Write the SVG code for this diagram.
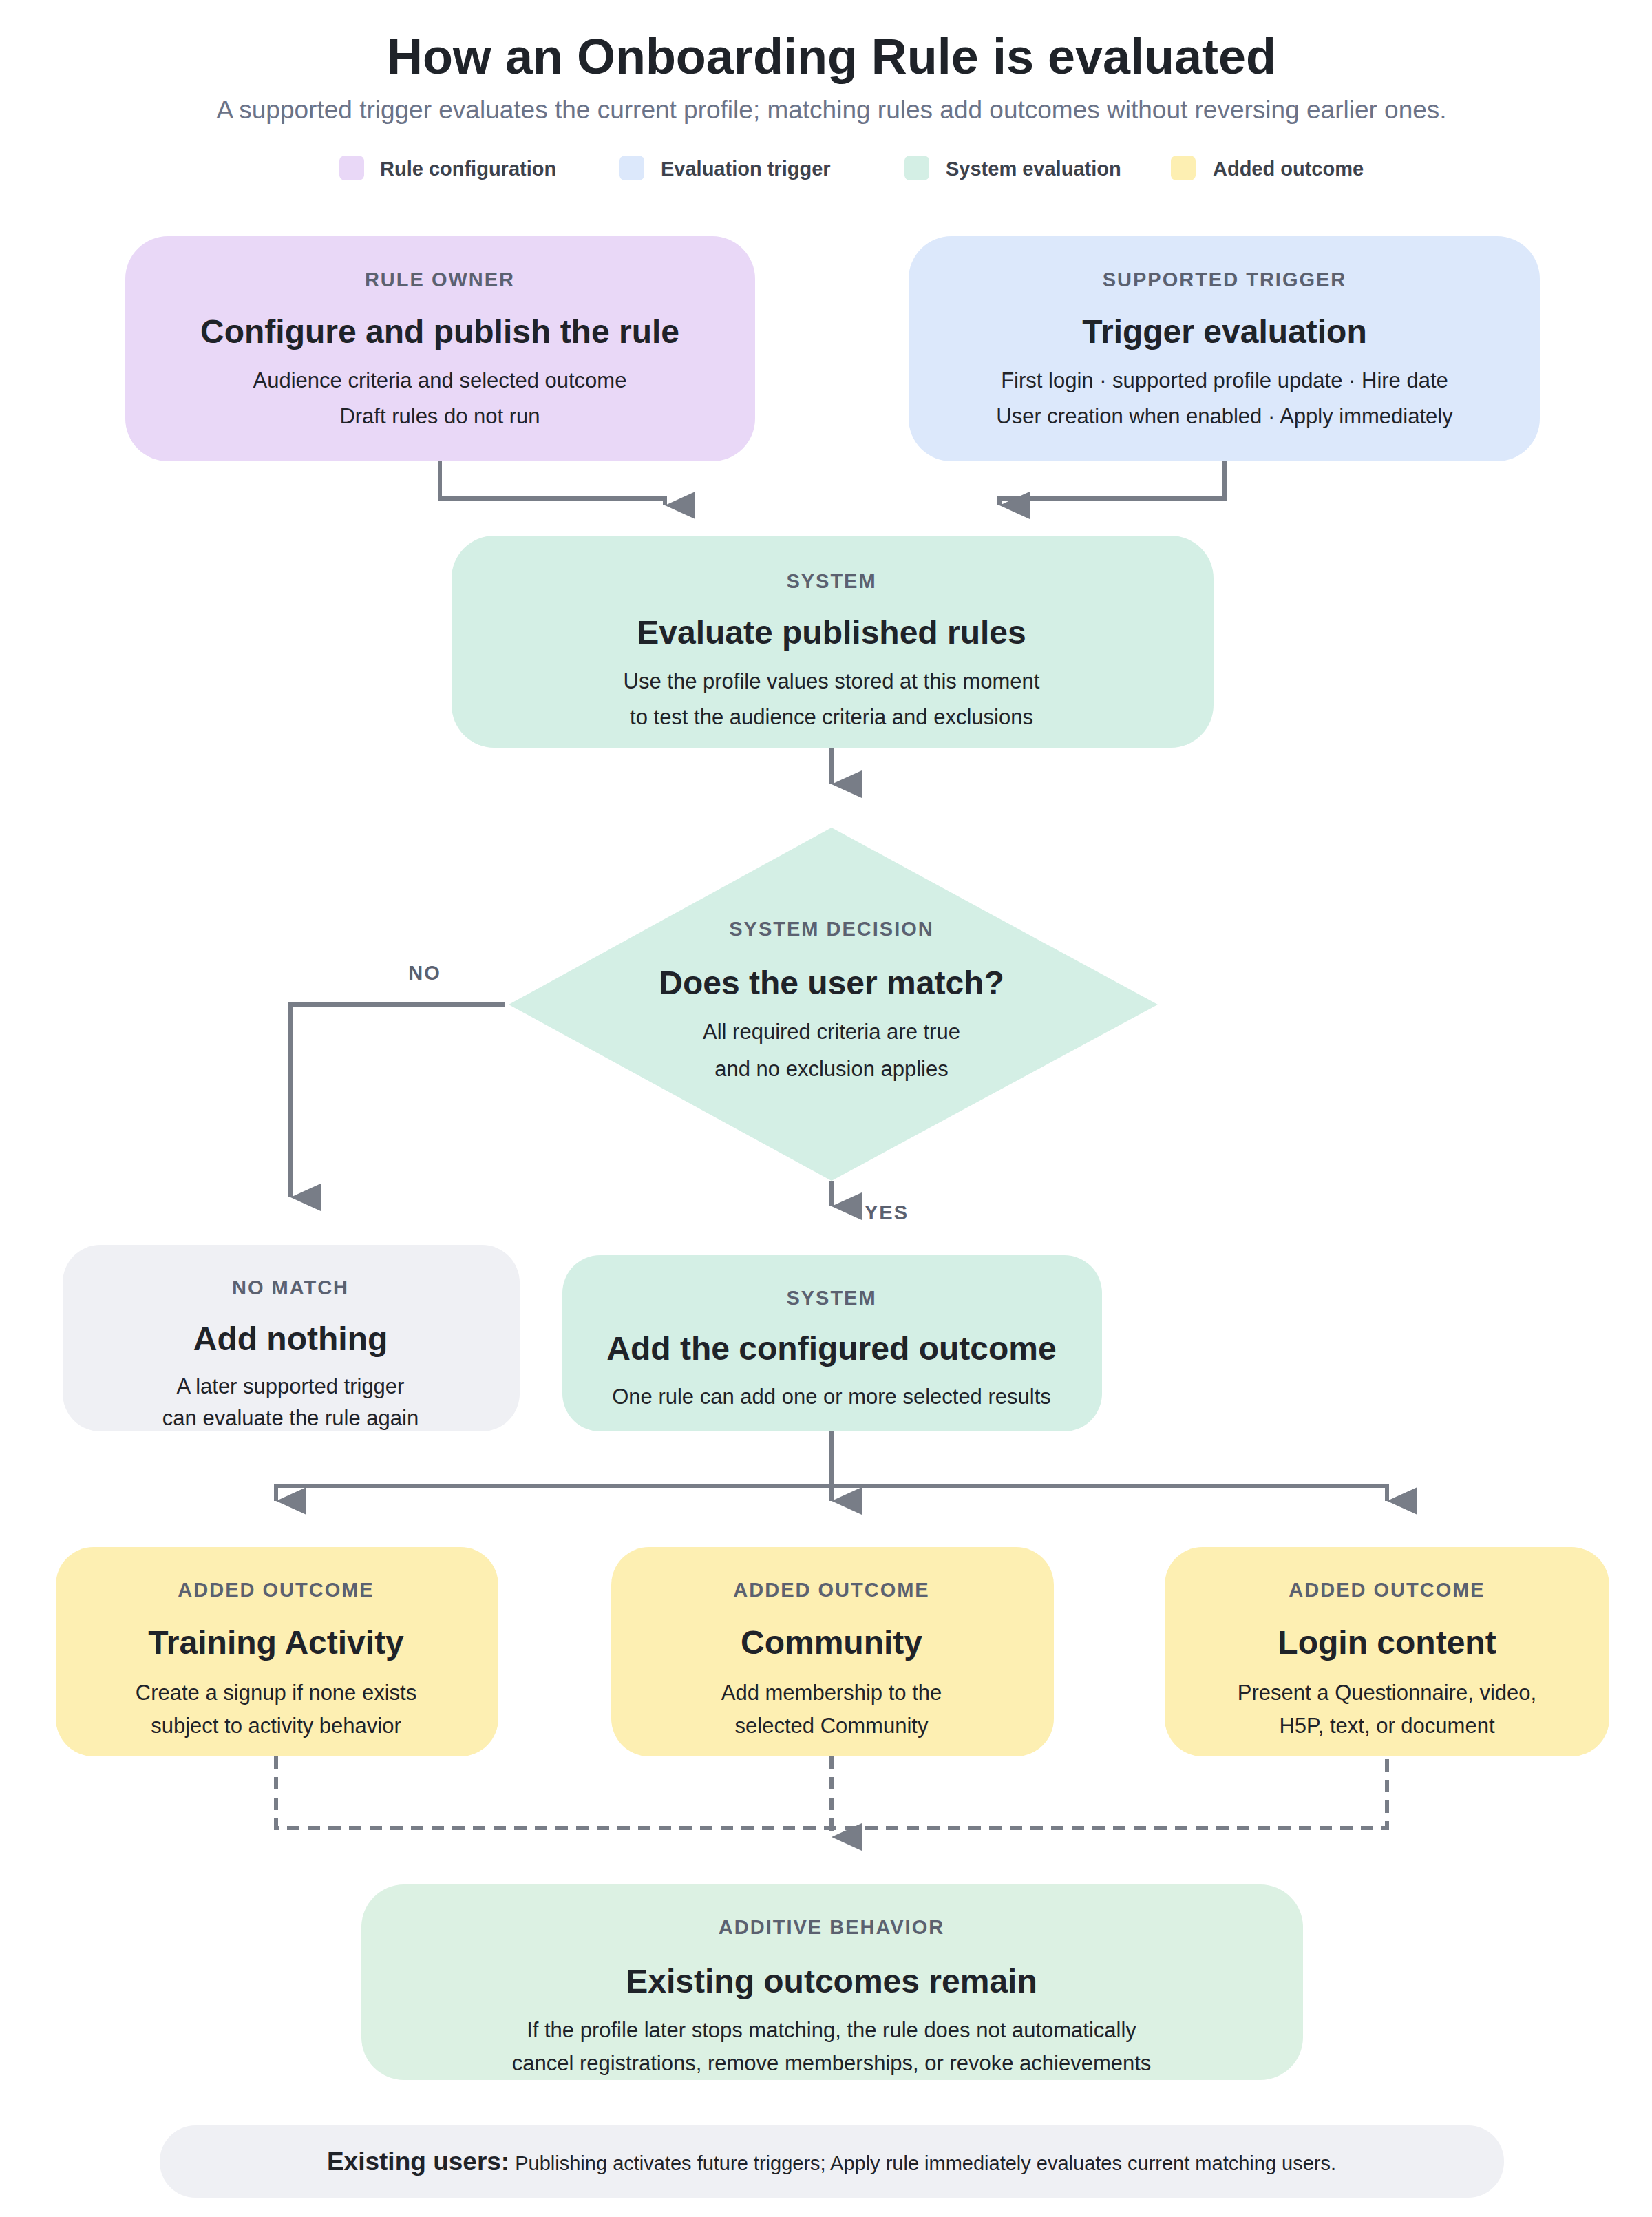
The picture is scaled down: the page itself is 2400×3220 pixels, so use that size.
<svg xmlns="http://www.w3.org/2000/svg" width="2400" height="3220" viewBox="0 0 2400 3220">
<style>
text{font-family:"Liberation Sans",Arial,sans-serif;text-anchor:middle}
.t{font-size:72px;font-weight:bold;fill:#1f2329}
.s{font-size:37px;fill:#6b7388}
.lg{font-size:29px;font-weight:bold;fill:#3d424c;text-anchor:start}
.k{font-size:29px;font-weight:bold;fill:#5b6170;letter-spacing:2px}
.h{font-size:48px;font-weight:bold;fill:#1f2329}
.b{font-size:31px;fill:#1f2329}
.c{fill:none;stroke:#787d87;stroke-width:6}
.d{stroke-dasharray:18 12}
</style>
<defs>
<marker id="a" markerUnits="userSpaceOnUse" markerWidth="40" markerHeight="44" refX="20" refY="44" orient="auto-start-reverse" viewBox="0 0 40 44">
<path d="M0 0L40 0L20 44Z" fill="#787d87" transform="rotate(0)"/>
</marker>
</defs>
<rect width="2400" height="3220" fill="#fff"/>
<text class="t" x="1208" y="107">How an Onboarding Rule is evaluated</text>
<text class="s" x="1208" y="172">A supported trigger evaluates the current profile; matching rules add outcomes without reversing earlier ones.</text>
<g id="legend">
<rect x="493" y="226" width="36" height="36" rx="8" fill="#e9d8f7"/><text class="lg" x="552" y="255">Rule configuration</text>
<rect x="900" y="226" width="36" height="36" rx="8" fill="#dce8fb"/><text class="lg" x="960" y="255">Evaluation trigger</text>
<rect x="1314" y="226" width="36" height="36" rx="8" fill="#d4efe5"/><text class="lg" x="1374" y="255">System evaluation</text>
<rect x="1701" y="226" width="36" height="36" rx="8" fill="#fdefb2"/><text class="lg" x="1762" y="255">Added outcome</text>
</g>
<g id="connectors">
<path class="c" d="M639 670V724H966V734" marker-end="url(#a)"/>
<path class="c" d="M1779 670V724H1452V734" marker-end="url(#a)"/>
<path class="c" d="M1208 1086V1139" marker-end="url(#a)"/>
<path class="c" d="M734 1459H422V1739" marker-end="url(#a)"/>
<path class="c" d="M1208 1715V1752" marker-end="url(#a)"/>
<path class="c" d="M1208 2079V2180" marker-end="url(#a)"/>
<path class="c" d="M1208 2158H401V2180" marker-end="url(#a)"/>
<path class="c" d="M1208 2158H2015V2180" marker-end="url(#a)"/>
<path class="c d" d="M401 2551V2655H2015V2551"/>
<path class="c d" d="M1208 2551V2668" marker-end="url(#a)"/>
<text class="k" x="617" y="1423">NO</text>
<text class="k" x="1288" y="1771">YES</text>
</g>
<g id="rule-owner">
<rect x="182" y="343" width="915" height="327" rx="62" fill="#e9d8f7"/>
<text class="k" x="639" y="416">RULE OWNER</text>
<text class="h" x="639" y="498">Configure and publish the rule</text>
<text class="b" x="639" y="563">Audience criteria and selected outcome</text>
<text class="b" x="639" y="615">Draft rules do not run</text>
</g>
<g id="trigger">
<rect x="1320" y="343" width="917" height="327" rx="62" fill="#dce8fb"/>
<text class="k" x="1779" y="416">SUPPORTED TRIGGER</text>
<text class="h" x="1779" y="498">Trigger evaluation</text>
<text class="b" x="1779" y="563">First login · supported profile update · Hire date</text>
<text class="b" x="1779" y="615">User creation when enabled · Apply immediately</text>
</g>
<g id="evaluate">
<rect x="656" y="778" width="1107" height="308" rx="62" fill="#d4efe5"/>
<text class="k" x="1208" y="854">SYSTEM</text>
<text class="h" x="1208" y="935">Evaluate published rules</text>
<text class="b" x="1208" y="1000">Use the profile values stored at this moment</text>
<text class="b" x="1208" y="1052">to test the audience criteria and exclusions</text>
</g>
<g id="decision">
<path d="M1208 1202L1682 1459L1208 1715L739 1459Z" fill="#d4efe5"/>
<text class="k" x="1208" y="1359">SYSTEM DECISION</text>
<text class="h" x="1208" y="1444">Does the user match?</text>
<text class="b" x="1208" y="1509">All required criteria are true</text>
<text class="b" x="1208" y="1563">and no exclusion applies</text>
</g>
<g id="no-match">
<rect x="91" y="1808" width="664" height="271" rx="55" fill="#eff0f4"/>
<text class="k" x="422" y="1880">NO MATCH</text>
<text class="h" x="422" y="1961">Add nothing</text>
<text class="b" x="422" y="2024">A later supported trigger</text>
<text class="b" x="422" y="2070">can evaluate the rule again</text>
</g>
<g id="add-outcome">
<rect x="817" y="1823" width="784" height="256" rx="55" fill="#d4efe5"/>
<text class="k" x="1208" y="1895">SYSTEM</text>
<text class="h" x="1208" y="1975">Add the configured outcome</text>
<text class="b" x="1208" y="2039">One rule can add one or more selected results</text>
</g>
<g id="training">
<rect x="81" y="2247" width="643" height="304" rx="55" fill="#fdefb2"/>
<text class="k" x="401" y="2319">ADDED OUTCOME</text>
<text class="h" x="401" y="2402">Training Activity</text>
<text class="b" x="401" y="2469">Create a signup if none exists</text>
<text class="b" x="401" y="2517">subject to activity behavior</text>
</g>
<g id="community">
<rect x="888" y="2247" width="643" height="304" rx="55" fill="#fdefb2"/>
<text class="k" x="1208" y="2319">ADDED OUTCOME</text>
<text class="h" x="1208" y="2402">Community</text>
<text class="b" x="1208" y="2469">Add membership to the</text>
<text class="b" x="1208" y="2517">selected Community</text>
</g>
<g id="login">
<rect x="1692" y="2247" width="646" height="304" rx="55" fill="#fdefb2"/>
<text class="k" x="2015" y="2319">ADDED OUTCOME</text>
<text class="h" x="2015" y="2402">Login content</text>
<text class="b" x="2015" y="2469">Present a Questionnaire, video,</text>
<text class="b" x="2015" y="2517">H5P, text, or document</text>
</g>
<g id="additive">
<rect x="525" y="2737" width="1368" height="284" rx="62" fill="#dcf1e3"/>
<text class="k" x="1208" y="2809">ADDITIVE BEHAVIOR</text>
<text class="h" x="1208" y="2894">Existing outcomes remain</text>
<text class="b" x="1208" y="2959">If the profile later stops matching, the rule does not automatically</text>
<text class="b" x="1208" y="3007">cancel registrations, remove memberships, or revoke achievements</text>
</g>
<g id="footer">
<rect x="232" y="3087" width="1953" height="105" rx="52" fill="#eff0f4"/>
<text x="1208" y="3152"><tspan font-size="37" font-weight="bold" fill="#1f2329">Existing users:</tspan><tspan font-size="29" fill="#1f2329"> Publishing activates future triggers; Apply rule immediately evaluates current matching users.</tspan></text>
</g>
</svg>
